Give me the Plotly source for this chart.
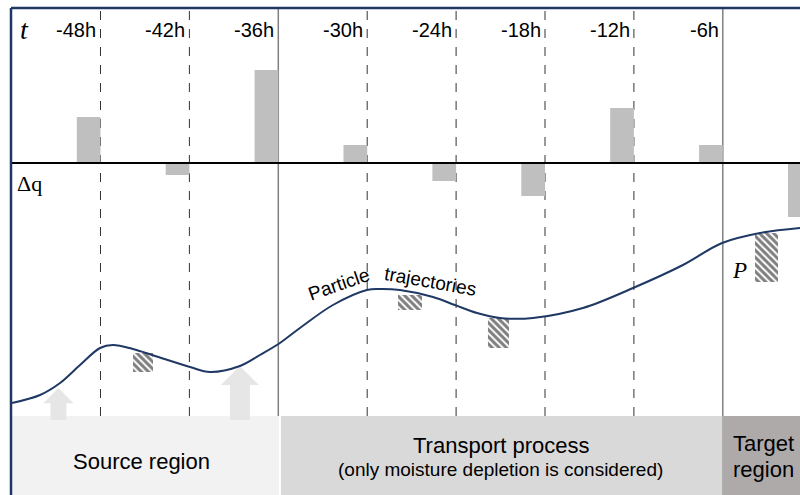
import plotly.graph_objects as go

# ---------------- data ----------------
times = [-48, -42, -36, -30, -24, -18, -12, -6, 0]
tick_labels = ["-48h", "-42h", "-36h", "-30h", "-24h", "-18h", "-12h", "-6h", "0h"]
dq = [46, -12, 93, 18, -18, -33, 55, 18, -54]          # moisture change per 6 h step
solid_times = [-36, -6]                                   # region boundaries

traj_t = [-53.97, -52.08, -50.73, -49.38, -48.03, -47.16, -45.81, -44.32, -41.96,
          -40.61, -38.59, -37.24, -35.89, -34.54, -32.31, -30.02, -29.14, -27.79,
          -25.56, -24.08, -22.59, -21.04, -18.81, -15.44, -12.06, -8.69, -6.05,
          -3.49, -0.79]
traj_h = [92, 100, 112, 130, 147, 150, 146, 139, 128,
          123, 129, 140, 152, 167, 190, 205, 206, 205,
          198, 190, 182, 177, 177, 187, 207, 230, 252,
          262, 267]

depl_t = [-45.13, -27.11, -21.14, -3.05]
depl_bottom = [123, 185, 147, 213]
depl_top = [142, 200, 177, 262]
depl_width = [1.35, 1.62, 1.42, 1.55]

uptake_t = [-50.84, -38.59]
uptake_top = [107, 129]
uptake_scale = [0.8, 1.0]

region_names = ["Source region", "Transport process", "Target"]
region_start = [-54.04, -35.82, -6.05]
region_end = [-35.95, -6.05, 2.0]
region_colors = ["#f2f2f2", "#d9d9d9", "#aeaaaa"]

# ---------------- figure ----------------
XR = [-54.04, -0.79]
NAVY = "#1f3864"
fig = go.Figure()

# Δq bars (upper panel)
fig.add_trace(go.Bar(
    x=[t - 0.8 for t in times], y=dq, width=1.6,
    marker=dict(color="#bfbfbf", line=dict(width=0)),
    yaxis="y", showlegend=False, hoverinfo="skip"))

# uptake arrows
for t, top, s in zip(uptake_t, uptake_top, uptake_scale):
    hw = 1.28 * s
    sw = 0.67 * s
    hh = 19 * s
    base = 75
    xs = [t - sw, t - sw, t - hw, t, t + hw, t + sw, t + sw, t - sw]
    ys = [base, top - hh, top - hh, top, top - hh, top - hh, base, base]
    fig.add_trace(go.Scatter(x=xs, y=ys, yaxis="y2", mode="lines", fill="toself",
                             fillcolor="#e6e6e6", line=dict(width=0),
                             showlegend=False, hoverinfo="skip"))

# moisture depletion hatches
fig.add_trace(go.Bar(
    x=depl_t, y=[a - b for a, b in zip(depl_top, depl_bottom)], base=depl_bottom,
    width=depl_width, yaxis="y2",
    marker=dict(color="white", line=dict(width=0),
                pattern=dict(shape="\\", fgcolor="black", bgcolor="white",
                             size=5, solidity=0.6)),
    showlegend=False, hoverinfo="skip"))

# particle trajectory
fig.add_trace(go.Scatter(x=traj_t, y=traj_h, yaxis="y2", mode="lines",
                         line=dict(color=NAVY, width=2, shape="spline", smoothing=1.0),
                         showlegend=False, hoverinfo="skip"))

shapes = []
# region boxes
for s, e, c in zip(region_start, region_end, region_colors):
    shapes.append(dict(type="rect", xref="x", yref="y2", x0=s, x1=e, y0=-20, y1=79,
                       fillcolor=c, line=dict(width=0), layer="below"))
# vertical time lines
for t in times:
    solid = t in solid_times
    shapes.append(dict(type="line", xref="x", yref="y2", x0=t, x1=t, y0=79, y1=487,
                       line=dict(color="#808080" if solid else "#333333",
                                 width=1.5 if solid else 1,
                                 dash="solid" if solid else "dash"),
                       layer="below"))
# baseline Δq = 0
shapes.append(dict(type="line", xref="paper", yref="y", x0=0, x1=1, y0=0, y1=0,
                   line=dict(color="black", width=2)))
# frame
shapes.append(dict(type="line", xref="paper", yref="paper", x0=0, x1=1, y0=1, y1=1,
                   line=dict(color=NAVY, width=2.5)))
shapes.append(dict(type="line", xref="paper", yref="paper", x0=0, x1=0, y0=0, y1=1,
                   line=dict(color=NAVY, width=2.5)))

SANS = "Liberation Sans, Arial, sans-serif"
SERIF = "Liberation Serif, Times New Roman, serif"
ann = []
for t, lab in zip(times, tick_labels):
    ann.append(dict(x=t - 0.15, y=465, xref="x", yref="y2", text=lab, showarrow=False,
                    xanchor="right", yanchor="middle",
                    font=dict(family=SANS, size=20, color="black")))
ann += [
    dict(x=-53.6, y=466, xref="x", yref="y2", text="<i>t</i>", showarrow=False,
         xanchor="left", yanchor="middle", font=dict(family=SERIF, size=28, color="black")),
    dict(x=-53.75, y=312, xref="x", yref="y2", text="Δq", showarrow=False,
         xanchor="left", yanchor="middle", font=dict(family=SERIF, size=22, color="black")),
    dict(x=-4.2, y=225, xref="x", yref="y2", text="<i>P</i>", showarrow=False,
         xanchor="right", yanchor="middle", font=dict(family=SERIF, size=23, color="black")),
    dict(x=-31.97, y=211, xref="x", yref="y2", text="Particle", showarrow=False,
         textangle=-19, font=dict(family=SANS, size=19, color="black")),
    dict(x=-25.7, y=214, xref="x", yref="y2", text="trajectories", showarrow=False,
         textangle=10, font=dict(family=SANS, size=19, color="black")),
    dict(x=-45.2, y=34, xref="x", yref="y2", text=region_names[0], showarrow=False,
         font=dict(family=SANS, size=22, color="black")),
    dict(x=-21.0, y=50, xref="x", yref="y2", text=region_names[1], showarrow=False,
         font=dict(family=SANS, size=22, color="black")),
    dict(x=-21.0, y=26, xref="x", yref="y2", text="(only moisture depletion is considered)",
         showarrow=False, font=dict(family=SANS, size=19, color="black")),
    dict(x=-5.45, y=52, xref="x", yref="y2", text=region_names[2], showarrow=False,
         xanchor="left", font=dict(family=SANS, size=22, color="black")),
    dict(x=-5.45, y=26, xref="x", yref="y2", text="region", showarrow=False,
         xanchor="left", font=dict(family=SANS, size=22, color="black")),
]

fig.update_layout(
    width=800, height=495, autosize=False,
    margin=dict(l=11, r=0, t=8, b=0),
    paper_bgcolor="white", plot_bgcolor="white",
    barmode="overlay",
    xaxis=dict(range=XR, visible=False, showgrid=False, zeroline=False),
    yaxis=dict(range=[-332, 155], visible=False, showgrid=False, zeroline=False),
    yaxis2=dict(range=[0, 487], overlaying="y", visible=False, showgrid=False,
                zeroline=False),
    shapes=shapes, annotations=ann, showlegend=False,
)

fig.write_html("out.html")
